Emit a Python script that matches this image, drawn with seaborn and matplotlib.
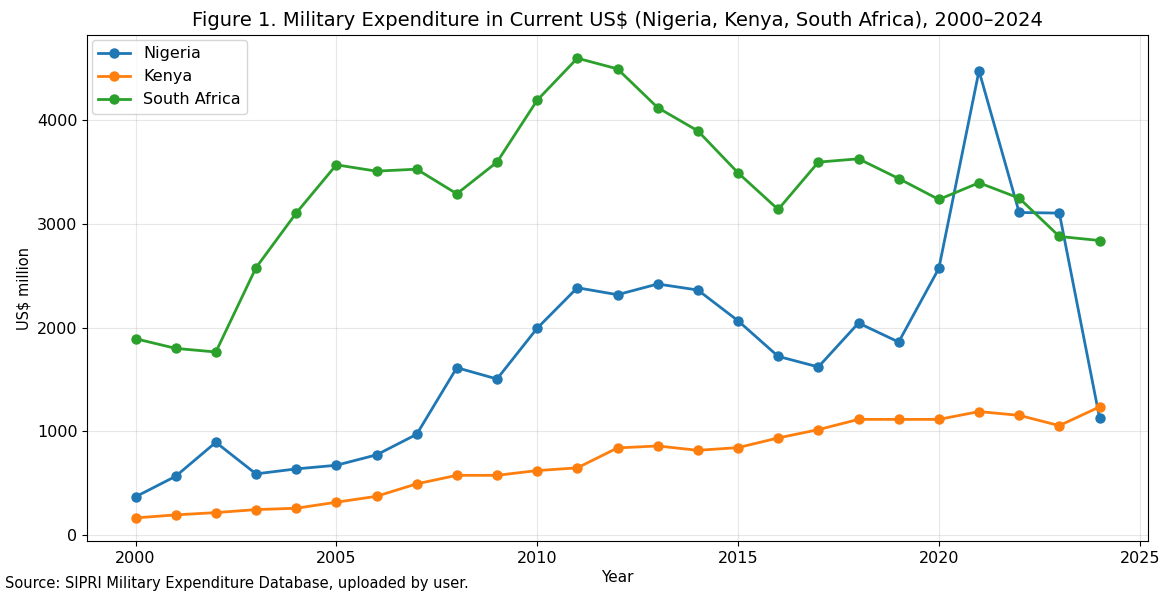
import numpy as np
import pandas as pd
import matplotlib
matplotlib.use("Agg")
import matplotlib.pyplot as plt
import seaborn as sns

YEARS = list(range(2000, 2025))

NIGERIA = [370, 568, 895, 591, 639, 674, 774, 972, 1614, 1505,
           1994, 2384, 2317, 2420, 2362, 2066, 1723, 1621, 2044, 1861,
           2570, 4473, 3109, 3103, 1133]
KENYA = [167, 196, 218, 247, 260, 318, 375, 495, 577, 577,
         623, 649, 841, 860, 818, 844, 937, 1017, 1116, 1116,
         1116, 1191, 1155, 1056, 1236]
SOUTH_AFRICA = [1893, 1800, 1765, 2577, 3103, 3568, 3507, 3526, 3289, 3594,
                4190, 4595, 4492, 4119, 3895, 3491, 3138, 3594, 3626, 3436,
                3234, 3395, 3247, 2878, 2839]

COUNTRIES = ["Nigeria", "Kenya", "South Africa"]
COLORS = ["#1f77b4", "#ff7f0e", "#2ca02c"]

TITLE = "Figure 1. Military Expenditure in Current US$ (Nigeria, Kenya, South Africa), 2000\u20132024"
SOURCE = "Source: SIPRI Military Expenditure Database, uploaded by user."

plt.rcParams.update({
    "font.family": ["DejaVu Sans"],
    "text.color": "black",
    "axes.labelcolor": "black",
    "xtick.color": "black",
    "ytick.color": "black",
})

df = pd.DataFrame({
    "Year": YEARS * 3,
    "Spend": NIGERIA + KENYA + SOUTH_AFRICA,
    "Country": [c for c in COUNTRIES for _ in YEARS],
})

fig = plt.figure(figsize=(11.64, 5.97), dpi=100)
ax = fig.add_axes([0.075, 0.094, 0.911, 0.847])

sns.lineplot(data=df, x="Year", y="Spend", hue="Country", hue_order=COUNTRIES,
             palette=COLORS, marker="o", markersize=7.5, markeredgewidth=0,
             linewidth=2, ax=ax)

ax.set_xticks([2000, 2005, 2010, 2015, 2020, 2025])
ax.set_yticks([0, 1000, 2000, 3000, 4000])
ax.tick_params(axis="both", labelsize=11.5)
ax.grid(True, alpha=0.3)
ax.set_xlabel("Year", fontsize=11, labelpad=3)
ax.set_ylabel("US$ million", fontsize=10.5)
ax.set_title(TITLE, fontsize=14, pad=7)

ax.legend(loc="upper left", fontsize=11.5, title=None, borderaxespad=0.3)

fig.text(0.004, 0.010, SOURCE, fontsize=10.5, ha="left", va="bottom")

fig.savefig("out.png", dpi=100, facecolor="white")
